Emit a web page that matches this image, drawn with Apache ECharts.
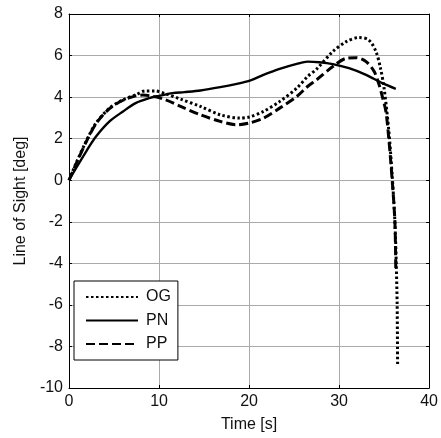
<!DOCTYPE html>
<html>
<head>
<meta charset="utf-8">
<script src="https://cdn.jsdelivr.net/npm/echarts@6/dist/echarts.min.js"></script>
<style>html,body{margin:0;padding:0;background:#fff}#c{width:441px;height:438px}</style>
</head>
<body>
<div id="c"></div>
<script>
const xTicks = [0, 10, 20, 30, 40];
const yTicks = [-10, -8, -6, -4, -2, 0, 2, 4, 6, 8];

const ogT = [0, 0.8, 1.9, 3.0, 4.5, 6.0, 7.4, 8.5, 9.5, 10.8, 12.4, 14.6, 16.8, 19, 20, 21.6, 23.4, 25.3, 26.5, 27.5, 29.3, 30.8, 32.2, 33.3, 34.1, 34.6, 35.0, 35.5, 35.9, 36.2, 36.35, 36.45, 36.5];
const ogY = [0, 0.83, 1.87, 2.75, 3.47, 3.87, 4.11, 4.3, 4.3, 4.15, 3.9, 3.55, 3.15, 2.99, 3.04, 3.31, 3.79, 4.43, 4.99, 5.35, 6.19, 6.67, 6.87, 6.75, 6.19, 5.39, 4.43, 2.5, 0.2, -2, -4, -6, -8.9];

const pnT = [0, 0.8, 1.9, 3.0, 4.5, 6.0, 7.4, 8.9, 10, 11.5, 12.8, 14.6, 16.8, 18.65, 20, 21.6, 23.4, 25.3, 26.5, 27.8, 29.3, 31.1, 33.0, 34.8, 36.3];
const pnY = [0, 0.59, 1.38, 2.1, 2.83, 3.31, 3.71, 3.95, 4.06, 4.19, 4.24, 4.32, 4.48, 4.64, 4.78, 5.07, 5.36, 5.6, 5.71, 5.68, 5.59, 5.39, 5.07, 4.67, 4.4];

const ppT = [0, 0.8, 1.9, 3.0, 4.5, 6.0, 7.4, 8.2, 9.2, 10.75, 12.4, 14.6, 16.8, 18.65, 20, 21.6, 23.4, 25.3, 26.5, 27.5, 29.3, 30.8, 31.9, 33.0, 33.9, 34.45, 34.8, 35.2, 35.55, 35.9, 36.2, 36.3];
const ppY = [0, 0.8, 1.84, 2.72, 3.45, 3.85, 4.06, 4.1, 4.05, 3.87, 3.55, 3.15, 2.83, 2.67, 2.75, 2.99, 3.47, 4.03, 4.51, 4.83, 5.47, 5.87, 5.9, 5.71, 5.23, 4.59, 4.03, 3.31, 1.87, 0, -2, -4.3];

const seriesNames = ['OG', 'PN', 'PP'];
const zip = (a, b) => a.map((v, i) => [v, b[i]]);

const FONT = 'Liberation Sans';
const chart = echarts.init(document.getElementById('c'), null, {renderer: 'canvas'});

const baseAxis = {
  axisLine: {show: true, onZero: false, lineStyle: {color: '#000', width: 1}},
  axisTick: {show: true, inside: true, length: 3, lineStyle: {color: '#000'}},
  splitLine: {show: false}
};

chart.setOption({
  animation: false,
  backgroundColor: '#fff',
  grid: {left: 69, top: 14, width: 362, height: 375, containLabel: false},
  legend: {
    data: seriesNames,
    orient: 'vertical',
    left: 74, top: 281,
    itemWidth: 52, itemHeight: 14, itemGap: 7.5,
    padding: [8, 7, 8, 11],
    borderColor: '#000', borderWidth: 1,
    backgroundColor: '#fff',
    itemStyle: {opacity: 0},
    textStyle: {fontFamily: FONT, fontSize: 16, color: '#111', padding: [0, 0, 0, 3]},
    selectedMode: false
  },
  xAxis: [
    Object.assign({}, baseAxis, {
      type: 'value', min: 0, max: 40, interval: 10, position: 'bottom',
      name: 'Time [s]', nameLocation: 'middle', nameGap: 29,
      nameTextStyle: {fontFamily: FONT, fontSize: 16, color: '#111'},
      axisLabel: {fontFamily: FONT, fontSize: 16, color: '#111', margin: 6,
        formatter: v => xTicks.includes(v) ? String(v) : ''},
      splitLine: {show: true, lineStyle: {color: '#aaa', width: 1}}
    }),
    Object.assign({}, baseAxis, {
      type: 'value', min: 0, max: 40, interval: 10, position: 'top',
      axisLabel: {show: false}
    })
  ],
  yAxis: [
    Object.assign({}, baseAxis, {
      type: 'value', min: -10, max: 8, interval: 2, position: 'left',
      name: 'Line of Sight [deg]', nameLocation: 'middle', nameGap: 39,
      nameTextStyle: {fontFamily: FONT, fontSize: 16, color: '#111'},
      axisLabel: {fontFamily: FONT, fontSize: 16, color: '#111', margin: 6,
        formatter: v => yTicks.includes(v) ? String(v) : ''},
      splitLine: {show: true, lineStyle: {color: '#aaa', width: 1}}
    }),
    Object.assign({}, baseAxis, {
      type: 'value', min: -10, max: 8, interval: 2, position: 'right',
      axisLabel: {show: false}
    })
  ],
  series: [
    {name: 'OG', type: 'line', data: zip(ogT, ogY), symbol: 'none', symbolSize: 0, smooth: 0.3,
      lineStyle: {color: '#000', width: 3, type: [2.5, 2.5]}, itemStyle: {color: '#000'}, z: 3},
    {name: 'PN', type: 'line', data: zip(pnT, pnY), symbol: 'none', symbolSize: 0, smooth: 0.3,
      lineStyle: {color: '#000', width: 2.4, type: 'solid'}, itemStyle: {color: '#000'}, z: 3},
    {name: 'PP', type: 'line', data: zip(ppT, ppY), symbol: 'none', symbolSize: 0, smooth: 0.3,
      lineStyle: {color: '#000', width: 3, type: [9, 4]}, itemStyle: {color: '#000'}, z: 3}
  ]
});
</script>
</body>
</html>
